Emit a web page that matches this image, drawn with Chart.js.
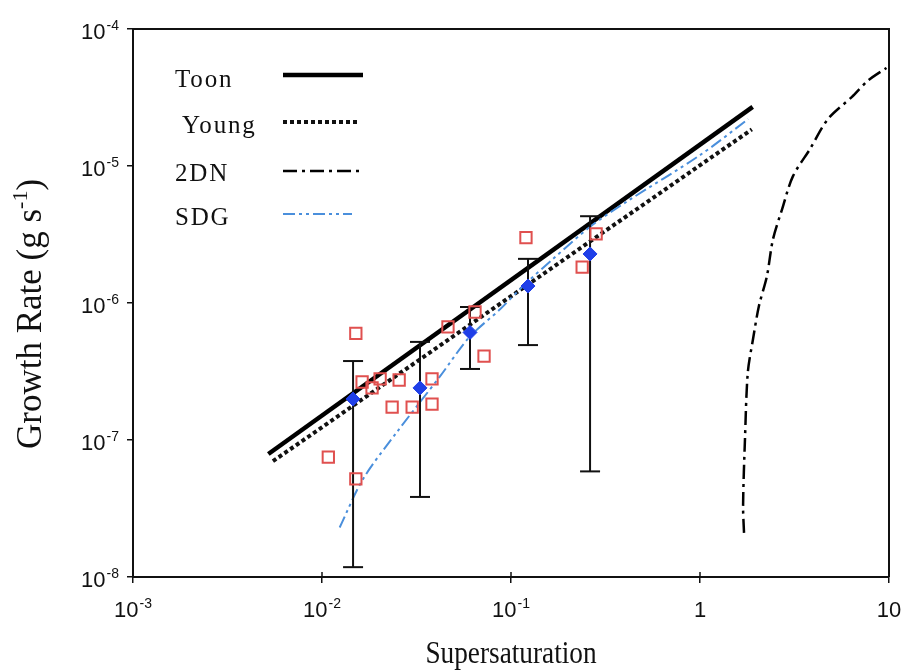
<!DOCTYPE html>
<html>
<head>
<meta charset="utf-8">
<script src="https://cdn.jsdelivr.net/npm/chart.js@4.4.1/dist/chart.umd.min.js"></script>
<style>
  html, body { margin: 0; padding: 0; background: #fff; }
  #wrap { width: 902px; height: 670px; }
</style>
</head>
<body>
<div id="wrap"><canvas id="c" width="902" height="670"></canvas></div>
<script>
// ---- data ----
const xTickVals = [1e-3, 1e-2, 1e-1, 1, 10];
const xTickBase = ['10', '10', '10', '1', '10'];
const xTickExp  = ['-3', '-2', '-1', '', ''];
const yTickVals = [1e-8, 1e-7, 1e-6, 1e-5, 1e-4];
const yTickBase = ['10', '10', '10', '10', '10'];
const yTickExp  = ['-8', '-7', '-6', '-5', '-4'];

const xTitle = 'Supersaturation';
const yTitleMain = 'Growth Rate (g s';
const yTitleSup = '-1';
const yTitleEnd = ')';

const seriesNames = ['Toon', 'Young', '2DN', 'SDG'];

const toonX = [0.0052, 1.9];
const toonY = [7.9e-8, 2.7e-5];

const youngX = [0.0055, 1.88];
const youngY = [7.0e-8, 1.85e-5];

const dnX = [1.71, 1.69, 1.73, 1.79, 1.91, 2.05, 2.26, 2.43, 2.72, 3.10, 3.82, 4.75, 6.37, 7.74, 9.7];
const dnY = [2.1e-8, 3.3e-8, 1.02e-7, 3.1e-7, 5.5e-7, 9.5e-7, 1.57e-6, 2.9e-6, 4.85e-6, 8.4e-6, 1.33e-5, 2.2e-5, 3.2e-5, 4.2e-5, 5.2e-5];

const sdgX = [0.0124, 0.0165, 0.025, 0.042, 0.06, 0.0875, 0.116, 0.167, 0.262, 0.41, 1.0, 1.8];
const sdgY = [2.3e-8, 5.2e-8, 1.15e-7, 2.9e-7, 5.6e-7, 9.0e-7, 1.33e-6, 2.1e-6, 3.6e-6, 5.5e-6, 1.2e-5, 2.2e-5];

const obsX = [0.0108, 0.0151, 0.0151, 0.0163, 0.0184, 0.0203, 0.0256, 0.0235, 0.030, 0.0382, 0.0382, 0.0464, 0.0645, 0.0720, 0.120, 0.238, 0.282];
const obsY = [7.5e-8, 6.0e-7, 5.2e-8, 2.65e-7, 2.4e-7, 2.79e-7, 2.74e-7, 1.74e-7, 1.74e-7, 1.83e-7, 2.79e-7, 6.7e-7, 8.6e-7, 4.1e-7, 3.0e-6, 1.83e-6, 3.2e-6];

const meanX  = [0.0146, 0.033, 0.0607, 0.123, 0.262];
const meanY  = [1.99e-7, 2.4e-7, 6.1e-7, 1.33e-6, 2.28e-6];
const meanHi = [3.77e-7, 5.2e-7, 9.35e-7, 2.1e-6, 4.3e-6];
const meanLo = [1.18e-8, 3.84e-8, 3.3e-7, 4.93e-7, 5.9e-8];

// ---- build ----
const pts = (xs, ys) => xs.map((x, i) => ({ x: x, y: ys[i] }));

const datasets = [
  { label: seriesNames[0], data: pts(toonX, toonY), showLine: true, borderColor: '#000', borderWidth: 4.5, pointRadius: 0, order: 6, legend: true },
  { label: seriesNames[1], data: pts(youngX, youngY), showLine: true, borderColor: '#111', borderWidth: 4, borderDash: [4, 3], pointRadius: 0, order: 7, legend: true },
  { label: seriesNames[2], data: pts(dnX, dnY), showLine: true, borderColor: '#000', borderWidth: 2.5, borderDash: [14, 5, 3, 5], pointRadius: 0, tension: 0.3, order: 8, legend: true },
  { label: seriesNames[3], data: pts(sdgX, sdgY), showLine: true, borderColor: '#4a8fdc', borderWidth: 2, borderDash: [12, 4, 3, 4, 3, 4], pointRadius: 0, tension: 0.3, order: 5, legend: true }
];

meanX.forEach((x, i) => {
  datasets.push({
    label: 'err' + i,
    data: [{ x: x, y: meanLo[i] }, { x: x, y: meanHi[i] }],
    showLine: true, borderColor: '#111', borderWidth: 2,
    pointStyle: 'line', pointRadius: 10, pointBorderWidth: 2, pointBorderColor: '#111',
    order: 3
  });
});

datasets.push({
  label: 'obs', data: pts(obsX, obsY), showLine: false,
  pointStyle: 'rect', pointRadius: 8, pointBorderWidth: 2,
  pointBorderColor: '#e0504f', pointBackgroundColor: 'rgba(0,0,0,0)', order: 2
});
datasets.push({
  label: 'mean', data: pts(meanX, meanY), showLine: false,
  pointStyle: 'rectRot', pointRadius: 7, pointBorderWidth: 1,
  pointBorderColor: '#1f3fe8', pointBackgroundColor: '#1f3fe8', order: 1
});

const drawTick = (ctx, base, exp, x, y, align) => {
  const fb = '22px "Liberation Sans", Arial, sans-serif';
  const fe = '14px "Liberation Sans", Arial, sans-serif';
  ctx.font = fb; const wb = ctx.measureText(base).width;
  ctx.font = fe; const we = exp ? ctx.measureText(exp).width + 1 : 0;
  const w = wb + we;
  let x0 = align === 'center' ? x - w / 2 : x - w;
  ctx.textAlign = 'left'; ctx.textBaseline = 'alphabetic';
  ctx.font = fb; ctx.fillText(base, x0, y);
  if (exp) { ctx.font = fe; ctx.fillText(exp, x0 + wb + 1, y - 9); }
};

const decor = {
  id: 'decor',
  beforeDatasetsDraw(chart) {
    const { ctx, chartArea: a } = chart;
    ctx.save();
    ctx.strokeStyle = '#111'; ctx.lineWidth = 2;
    ctx.beginPath();
    ctx.moveTo(a.left, a.top); ctx.lineTo(a.right, a.top); ctx.lineTo(a.right, a.bottom);
    ctx.stroke();
    ctx.lineWidth = 1.5;
    xTickVals.forEach(v => {
      const px = chart.scales.x.getPixelForValue(v);
      ctx.beginPath(); ctx.moveTo(px, a.bottom); ctx.lineTo(px, a.bottom - 5); ctx.stroke();
    });
    ctx.restore();
  },
  afterDraw(chart) {
    const { ctx, chartArea: a } = chart;
    const xs = chart.scales.x, ys = chart.scales.y;
    ctx.save();
    ctx.fillStyle = '#111';
    xTickVals.forEach((v, i) => drawTick(ctx, xTickBase[i], xTickExp[i], xs.getPixelForValue(v), a.bottom + 40, 'center'));
    yTickVals.forEach((v, i) => drawTick(ctx, yTickBase[i], yTickExp[i], a.left - 14, ys.getPixelForValue(v) + 10, 'right'));

    ctx.save();
    ctx.translate((a.left + a.right) / 2, 663);
    ctx.scale(0.88, 1);
    ctx.font = '31px "Liberation Serif", "Times New Roman", serif';
    ctx.textAlign = 'center'; ctx.textBaseline = 'alphabetic';
    ctx.fillText(xTitle, 0, 0);
    ctx.restore();

    ctx.save();
    ctx.translate(41, 314);
    ctx.rotate(-Math.PI / 2);
    const fm = '35px "Liberation Serif", "Times New Roman", serif';
    const fs = '22px "Liberation Serif", "Times New Roman", serif';
    ctx.font = fm; const w1 = ctx.measureText(yTitleMain).width; const w3 = ctx.measureText(yTitleEnd).width;
    ctx.font = fs; const w2 = ctx.measureText(yTitleSup).width;
    let x0 = -(w1 + w2 + w3) / 2;
    ctx.textAlign = 'left';
    ctx.font = fm; ctx.fillText(yTitleMain, x0, 0);
    ctx.font = fs; ctx.fillText(yTitleSup, x0 + w1, -14);
    ctx.font = fm; ctx.fillText(yTitleEnd, x0 + w1 + w2, 0);
    ctx.restore();
    ctx.restore();

    ctx.save();
    const rows = [{ tx: 175, ty: 87, ly: 75 }, { tx: 182, ty: 133, ly: 122 }, { tx: 175, ty: 181, ly: 171 }, { tx: 175, ty: 225, ly: 214 }];
    const ends = [363, 360, 359, 352];
    ctx.font = '25px "Liberation Serif", "Times New Roman", serif';
    ctx.textAlign = 'left'; ctx.textBaseline = 'alphabetic';
    ctx.letterSpacing = '1.8px';
    chart.data.datasets.filter(d => d.legend).forEach((d, i) => {
      const r = rows[i];
      ctx.fillStyle = '#111';
      ctx.fillText(d.label, r.tx, r.ty);
      ctx.strokeStyle = d.borderColor; ctx.lineWidth = d.borderWidth;
      ctx.setLineDash(d.borderDash || []);
      ctx.beginPath(); ctx.moveTo(283, r.ly); ctx.lineTo(ends[i], r.ly); ctx.stroke();
    });
    ctx.restore();
  }
};

new Chart(document.getElementById('c'), {
  type: 'scatter',
  data: { datasets: datasets },
  options: {
    responsive: false,
    animation: false,
    events: [],
    layout: { padding: { left: 0, top: 29, right: 13, bottom: 0 } },
    plugins: { legend: { display: false }, tooltip: { enabled: false } },
    scales: {
      x: {
        type: 'logarithmic', min: 1e-3, max: 10,
        afterBuildTicks: s => { s.ticks = xTickVals.map(v => ({ value: v })); },
        afterFit: s => { s.height = 93; },
        ticks: { display: false },
        grid: { drawOnChartArea: false, drawTicks: true, tickLength: 6, color: '#111', lineWidth: 1.5 },
        border: { display: true, color: '#111', width: 2 }
      },
      y: {
        type: 'logarithmic', min: 1e-8, max: 1e-4,
        afterBuildTicks: s => { s.ticks = yTickVals.map(v => ({ value: v })); },
        afterFit: s => { s.width = 133; },
        ticks: { display: false },
        grid: { drawOnChartArea: false, drawTicks: true, tickLength: 6, color: '#111', lineWidth: 1.5 },
        border: { display: true, color: '#111', width: 2 }
      }
    }
  },
  plugins: [decor]
});
</script>
</body>
</html>
